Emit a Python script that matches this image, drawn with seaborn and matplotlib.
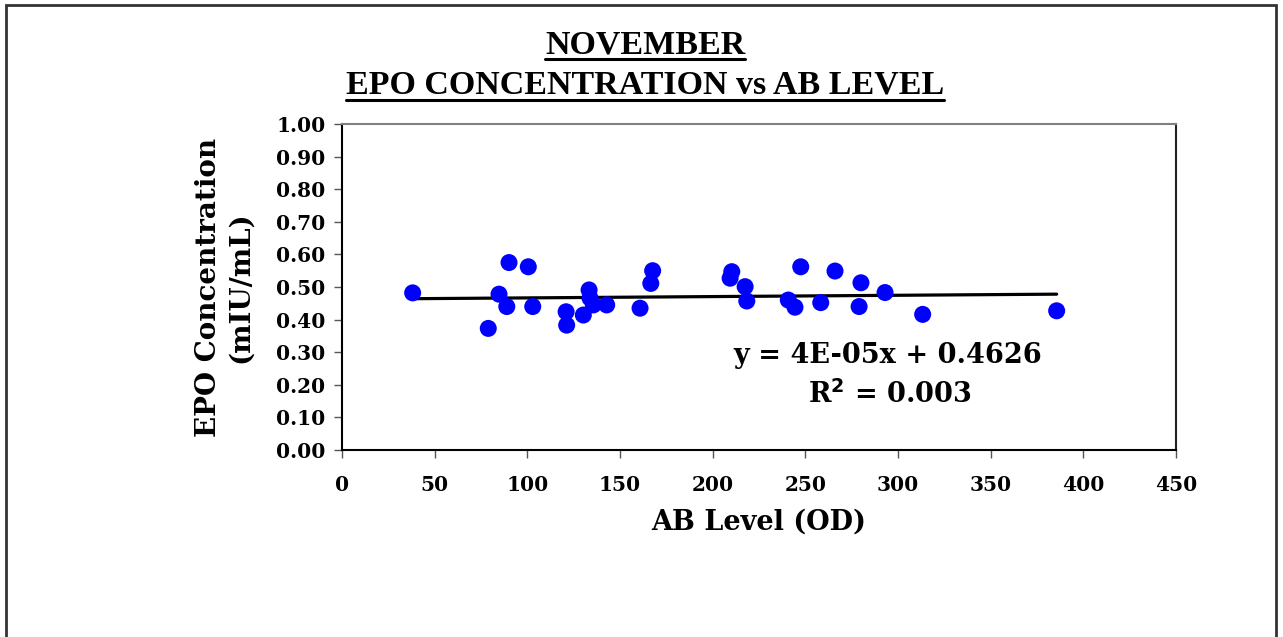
import matplotlib
matplotlib.use("Agg")
import matplotlib.pyplot as plt
import matplotlib.patches as patches
import seaborn as sns
import numpy as np
import pandas as pd

# AB level (OD) vs EPO concentration
ab_level = [38.1, 78.9, 84.7, 88.9, 90.1, 100.5, 102.9, 120.9, 121.2, 130.2,
            133.3, 133.8, 135.6, 142.8, 160.8, 166.6, 167.6, 209.4, 210.3, 217.5,
            218.4, 240.8, 244.4, 247.5, 258.3, 266.0, 279.0, 280.0, 293.0, 313.3,
            385.6]
epo_conc = [0.482, 0.373, 0.478, 0.440, 0.575, 0.562, 0.440, 0.424, 0.383, 0.414,
            0.491, 0.466, 0.445, 0.445, 0.435, 0.511, 0.550, 0.527, 0.547, 0.501,
            0.457, 0.460, 0.438, 0.562, 0.452, 0.549, 0.440, 0.513, 0.483, 0.416,
            0.427]

# trendline as printed on the chart
slope = 4e-05
intercept = 0.4626
r_squared = 0.003

x_ticks = np.arange(0, 451, 50)
y_ticks = np.arange(0, 1.001, 0.1)

df = pd.DataFrame({"ab": ab_level, "epo": epo_conc})

sns.set_style("white")
plt.rcParams["text.color"] = "black"
plt.rcParams["axes.labelcolor"] = "black"
plt.rcParams["xtick.color"] = "black"
plt.rcParams["ytick.color"] = "black"
serif = ["DejaVu Serif"]

fig = plt.figure(figsize=(12.83, 6.37), dpi=100)
ax = fig.add_axes([0.2666, 0.2936, 0.65, 0.5117])

sns.scatterplot(data=df, x="ab", y="epo", ax=ax, color="#0000FF", s=150,
                edgecolor="none", zorder=3)

xl = np.array([min(ab_level), max(ab_level)])
ax.plot(xl, slope * xl + intercept, color="black", lw=2.3, zorder=2)

ax.set_xlim(0, 450)
ax.set_ylim(0, 1.0)
ax.set_xticks(x_ticks)
ax.set_yticks(y_ticks)
ax.set_xticklabels([f"{v:d}" for v in x_ticks], family=serif, weight="bold", fontsize=14.5)
ax.set_yticklabels([f"{v:.2f}" for v in y_ticks], family=serif, weight="bold", fontsize=14.5)
ax.tick_params(axis="both", direction="out", length=6, width=1,
               left=True, bottom=True)
ax.tick_params(axis="x", pad=12, color="#555555")
ax.tick_params(axis="y", pad=6, color="#555555")

for side in ["left", "bottom"]:
    ax.spines[side].set_color("black")
    ax.spines[side].set_linewidth(1.5)
ax.spines["top"].set_color("#808080")
ax.spines["right"].set_color("#222222")
ax.spines["top"].set_linewidth(1.5)
ax.spines["right"].set_linewidth(1.5)

ax.set_xlabel("AB Level (OD)", family=serif, weight="bold", fontsize=19.5, labelpad=10)
ax.set_ylabel("EPO Concentration\n(mIU/mL)", family=serif, weight="bold", fontsize=20,
              labelpad=16, linespacing=1.25)

ax.text(0.654, 0.29, f"y = 4E-05x + {intercept}", transform=ax.transAxes,
        ha="center", va="center", family=serif, weight="bold", fontsize=19.5)
ax.text(0.657, 0.168, "R$^\\mathbf{2}$ = " + f"{r_squared}", transform=ax.transAxes,
        ha="center", va="center", family=serif, weight="bold", fontsize=19.5)

# title with underlines
t1 = fig.text(0.503, 0.929, "NOVEMBER", ha="center", va="center",
              family=["Liberation Serif"], weight="bold", fontsize=24.5)
t2 = fig.text(0.503, 0.866, "EPO CONCENTRATION vs AB LEVEL", ha="center", va="center",
              family=["Liberation Serif"], weight="bold", fontsize=24.5)
fig.canvas.draw()
renderer = fig.canvas.get_renderer()
for t in (t1, t2):
    bb = t.get_window_extent(renderer).transformed(fig.transFigure.inverted())
    fig.add_artist(plt.Line2D([bb.x0, bb.x1], [bb.y0 + 0.002, bb.y0 + 0.002],
                              transform=fig.transFigure, color="black", lw=2.2))

# outer chart border
fig.add_artist(patches.Rectangle((6 / 1283, -0.05), 1270 / 1283, 1.05 - 5 / 637,
                                 transform=fig.transFigure, fill=False,
                                 edgecolor="#333333", lw=2))

fig.savefig("out.png", dpi=100, facecolor="white")
